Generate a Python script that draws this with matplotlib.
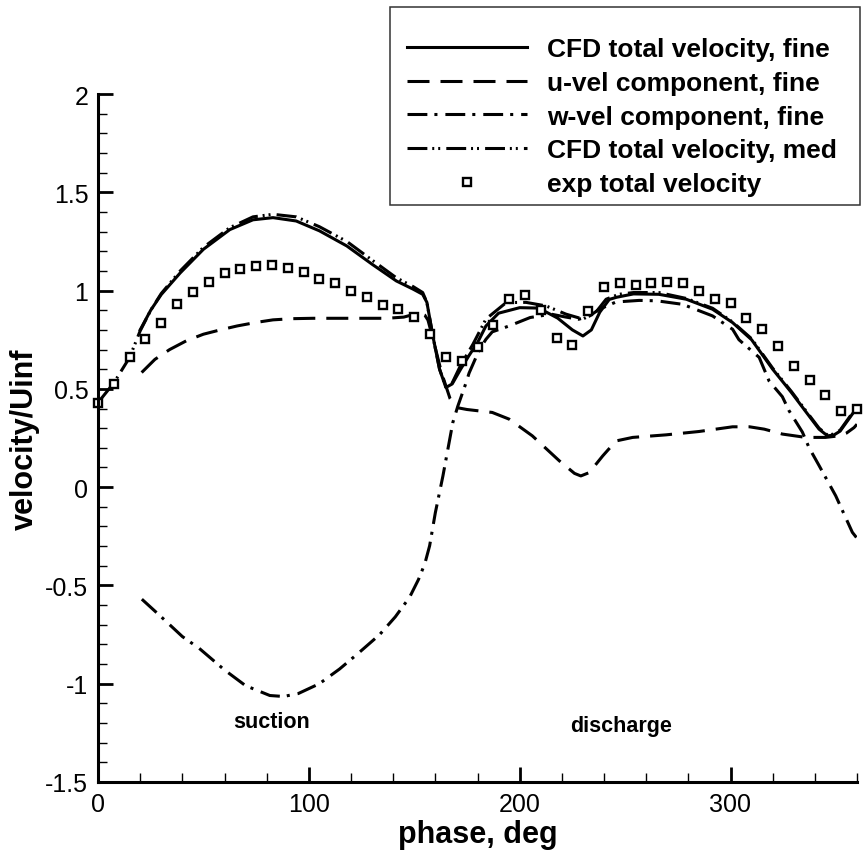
import numpy as np
import matplotlib
matplotlib.use("Agg")
import matplotlib.pyplot as plt
from matplotlib.lines import Line2D
from matplotlib.patches import Rectangle
from matplotlib.ticker import MultipleLocator, FuncFormatter

plt.rcParams['font.family'] = ['Liberation Sans', 'DejaVu Sans']
plt.rcParams['axes.unicode_minus'] = False

# CFD total velocity, fine grid
fine_phase = [20, 25, 30, 39, 50, 62.5, 73.5, 83, 94, 105, 118, 130, 141.5, 149.5,
              154, 156, 158.8, 162, 165, 168, 172, 176, 180, 184, 190, 200, 209,
              218, 225, 230, 234, 238, 242.5, 246, 254, 266, 279, 291.5, 301, 310,
              320, 329, 336, 342, 346, 349, 352, 355, 358, 360]
fine_total = [0.80, 0.90, 0.98, 1.09, 1.21, 1.31, 1.36, 1.371, 1.354, 1.304, 1.227,
              1.134, 1.049, 1.007, 0.981, 0.94, 0.77, 0.60, 0.507, 0.525, 0.60, 0.67,
              0.735, 0.82, 0.885, 0.913, 0.911, 0.86, 0.80, 0.769, 0.80, 0.89, 0.955,
              0.966, 0.983, 0.981, 0.956, 0.905, 0.837, 0.75, 0.60, 0.48, 0.38, 0.295,
              0.261, 0.265, 0.285, 0.33, 0.375, 0.41]

# u-velocity component, fine grid
u_phase = [20.7, 27, 34, 42, 50, 58, 66, 75, 83, 92, 102, 118, 137, 145, 149.5, 153,
           155, 156.5, 159, 163, 167, 170, 175, 187, 195, 206, 218.8, 226, 229, 233,
           239.4, 245.7, 253.6, 269.4, 285, 301, 309, 316, 324.6, 335.7, 345, 351.5,
           355, 358.6, 360]
u_vel = [0.583, 0.65, 0.70, 0.745, 0.778, 0.80, 0.82, 0.838, 0.851, 0.857, 0.859,
         0.859, 0.859, 0.865, 0.878, 0.884, 0.875, 0.85, 0.75, 0.58, 0.45, 0.405,
         0.395, 0.38, 0.346, 0.261, 0.134, 0.07, 0.057, 0.074, 0.159, 0.235, 0.253,
         0.266, 0.283, 0.307, 0.307, 0.295, 0.27, 0.253, 0.253, 0.261, 0.275, 0.303,
         0.32]

# w-velocity component, fine grid
w_phase = [20.8, 30, 40, 48, 60, 70, 81.5, 88, 95, 105, 114.6, 124, 133.6, 141,
           147.8, 152, 155, 157.3, 160, 163.6, 168.3, 170.7, 174.6, 176, 180.9, 184,
           187, 195, 205, 215, 222, 228, 233, 237.8, 245.7, 256.7, 265, 277.3, 291.5,
           301, 304, 313.6, 318.3, 324.6, 327.7, 334.1, 337.3, 342, 349.9, 357.8, 360]
w_vel = [-0.57, -0.66, -0.76, -0.82, -0.93, -1.01, -1.06, -1.065, -1.05, -1.00,
         -0.925, -0.84, -0.75, -0.66, -0.56, -0.47, -0.39, -0.298, -0.13, 0.057,
         0.329, 0.413, 0.532, 0.58, 0.70, 0.752, 0.79, 0.82, 0.863, 0.88, 0.865,
         0.854, 0.87, 0.905, 0.942, 0.950, 0.948, 0.930, 0.871, 0.803, 0.75, 0.66,
         0.54, 0.46, 0.39, 0.28, 0.20, 0.11, -0.044, -0.23, -0.26]

# CFD total velocity, medium grid
med_phase = [0, 7.5, 15, 20, 25, 30, 39, 50, 62.5, 73.5, 83, 94, 105, 118, 130, 141.5,
             149.5, 154, 156, 158.8, 162, 165, 168, 172, 178, 184, 193.6, 203, 212.5,
             222, 230, 236, 241, 247, 254, 266, 279, 291.5, 301, 310, 320, 329, 336,
             342, 346, 349, 352, 355, 358, 360]
med_total = [0.43, 0.53, 0.66, 0.795, 0.90, 0.985, 1.10, 1.22, 1.32, 1.375, 1.388,
             1.375, 1.325, 1.25, 1.155, 1.065, 1.02, 0.99, 0.94, 0.77, 0.60, 0.51,
             0.53, 0.62, 0.73, 0.855, 0.939, 0.94, 0.922, 0.88, 0.855, 0.888, 0.956,
             0.981, 0.99, 0.99, 0.96, 0.91, 0.84, 0.755, 0.605, 0.485, 0.385, 0.30,
             0.265, 0.27, 0.29, 0.335, 0.38, 0.41]

# experiment, every 7.5 deg
exp_phase = np.arange(0, 360.1, 7.5)
exp_total = [0.43, 0.527, 0.662, 0.756, 0.834, 0.930, 0.993, 1.044, 1.088, 1.108,
             1.124, 1.130, 1.117, 1.097, 1.059, 1.041, 0.998, 0.968, 0.929, 0.908,
             0.866, 0.781, 0.664, 0.641, 0.712, 0.824, 0.957, 0.976, 0.903, 0.761,
             0.724, 0.895, 1.018, 1.036, 1.029, 1.039, 1.046, 1.036, 0.998, 0.959,
             0.939, 0.862, 0.802, 0.720, 0.617, 0.544, 0.468, 0.386, 0.395]

LW = 2.2
dashed = (0, (7.2, 3.6))
dashdot = (0, (6.5, 2.3, 1.0, 2.6))
dashdotdot = (0, (6.5, 1.6, 0.65, 1.3, 0.65, 2.0))
square = dict(marker='s', ms=5.2, mfc='white', mec='black', mew=1.7)

fig = plt.figure(figsize=(8.64, 8.53), dpi=100)
ax = fig.add_axes([98 / 864, 70 / 853, 759 / 864, 688 / 853])

ax.plot(fine_phase, fine_total, color='black', lw=LW, ls='-')
ax.plot(u_phase, u_vel, color='black', lw=LW, ls=dashed)
ax.plot(w_phase, w_vel, color='black', lw=LW, ls=dashdot)
ax.plot(med_phase, med_total, color='black', lw=LW, ls=dashdotdot)
ax.plot(exp_phase, exp_total, ls='none', clip_on=False, **square)

ax.set_xlim(0, 360)
ax.set_ylim(-1.5, 2)
ax.xaxis.set_major_locator(MultipleLocator(100))
ax.xaxis.set_minor_locator(MultipleLocator(20))
ax.yaxis.set_major_locator(MultipleLocator(0.5))
ax.yaxis.set_minor_locator(MultipleLocator(0.1))
ax.yaxis.set_major_formatter(FuncFormatter(lambda v, p: '%g' % v))
ax.xaxis.set_major_formatter(FuncFormatter(lambda v, p: '%g' % v))

for side in ('top', 'right'):
    ax.spines[side].set_visible(False)
for side in ('left', 'bottom'):
    ax.spines[side].set_linewidth(2.2)

ax.tick_params(which='major', direction='in', length=10.8, width=2, labelsize=18, pad=7)
ax.tick_params(which='minor', direction='in', length=6.5, width=1)

ax.set_xlabel('phase, deg', fontsize=22, fontweight='bold')
ax.set_ylabel('velocity/Uinf', fontsize=22, fontweight='bold')
ax.xaxis.set_label_coords(0.5, -37 / 688)
ax.xaxis.label.set_va('top')
ax.yaxis.set_label_coords(-58 / 759, 0.5)

ax.text(82.5, -1.19, 'suction', ha='center', va='center', fontsize=15.5, fontweight='bold')
ax.text(248, -1.215, 'discharge', ha='center', va='center', fontsize=15.5, fontweight='bold')

# legend box sits partly above the plotting area
fig.patches.append(Rectangle((390 / 864, 1 - 206 / 853), 470 / 864, 198 / 853,
                             transform=fig.transFigure, fill=False,
                             edgecolor='#333333', lw=1.1))
handles = [
    Line2D([], [], color='black', lw=LW, ls='-'),
    Line2D([], [], color='black', lw=LW, ls=dashed),
    Line2D([], [], color='black', lw=LW, ls=dashdot),
    Line2D([], [], color='black', lw=LW, ls=dashdotdot),
    Line2D([], [], ls='none', **square),
]
labels = ['CFD total velocity, fine', 'u-vel component, fine',
          'w-vel component, fine', 'CFD total velocity, med', 'exp total velocity']
fig.legend(handles, labels, loc='upper left', bbox_to_anchor=(407 / 864, 1 - 38 / 853),
           frameon=False, prop={'size': 19, 'weight': 'bold'}, handlelength=4.55,
           handletextpad=0.76, labelspacing=0.37, borderpad=0, borderaxespad=0)

fig.savefig('out.png', dpi=100)
